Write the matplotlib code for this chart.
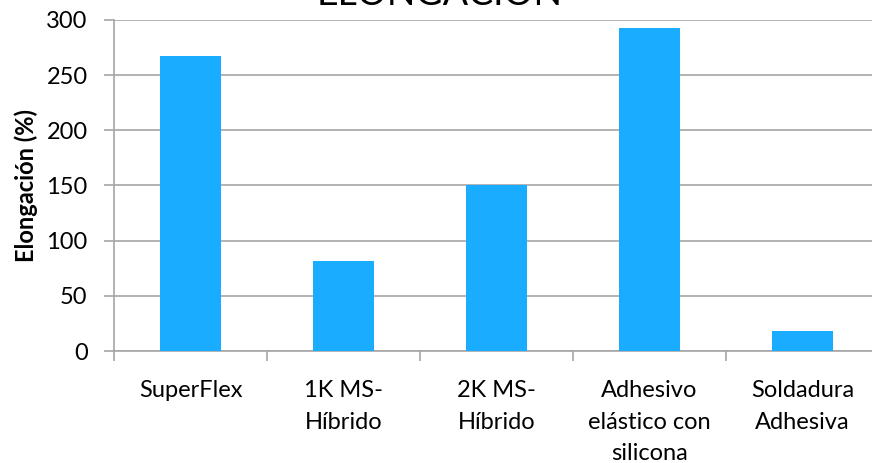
import matplotlib
matplotlib.use("Agg")
import matplotlib.pyplot as plt
import numpy as np

categories = ["SuperFlex", "1K MS-\nHíbrido", "2K MS-\nHíbrido", "Adhesivo\nelástico con\nsilicona", "Soldadura\nAdhesiva"]
values = [267, 82, 150, 293, 18]
yticks = [0, 50, 100, 150, 200, 250, 300]

plt.rcParams['font.family'] = ['Lato', 'DejaVu Sans']

W, H = 872, 463
fig = plt.figure(figsize=(W/100, H/100), dpi=100)
left, right, top, bottom = 114, 879, 20, 351
ax = fig.add_axes([left/W, 1 - bottom/H, (right-left)/W, (bottom-top)/H])

x = np.arange(len(categories))
ax.bar(x, values, width=0.4, color='#1aadff', zorder=3)
ax.set_xlim(-0.5, len(categories) - 0.5)
ax.set_ylim(0, 300)
ax.set_yticks(yticks)
ax.set_yticklabels([str(v) for v in yticks], fontsize=17)
ax.yaxis.grid(True, color='#a6a6a6', linewidth=1.2, zorder=0)
ax.set_xticks(np.arange(-0.5, len(categories) - 0.4, 1.0))
ax.set_xticklabels([])
ax.set_xticks(x, minor=True)
ax.set_xticklabels(categories, minor=True, fontsize=17, linespacing=1.62, va='top')
ax.tick_params(axis='x', which='minor', length=0, pad=21)
ax.tick_params(axis='x', which='major', length=7, color='#a6a6a6', width=1.2)
ax.tick_params(axis='y', length=7, color='#a6a6a6', width=1.2, pad=12)
for s in ['top', 'right']:
    ax.spines[s].set_visible(False)
for s in ['left', 'bottom']:
    ax.spines[s].set_color('#a6a6a6')
    ax.spines[s].set_linewidth(1.2)
ax.set_ylabel("Elongación (%)", fontsize=17, fontweight='bold', labelpad=6)

fig.text(440/W, 1 - 5/H, "ELONGACIÓN", fontsize=27, ha='center', va='baseline')

fig.savefig("out.png", dpi=100)
